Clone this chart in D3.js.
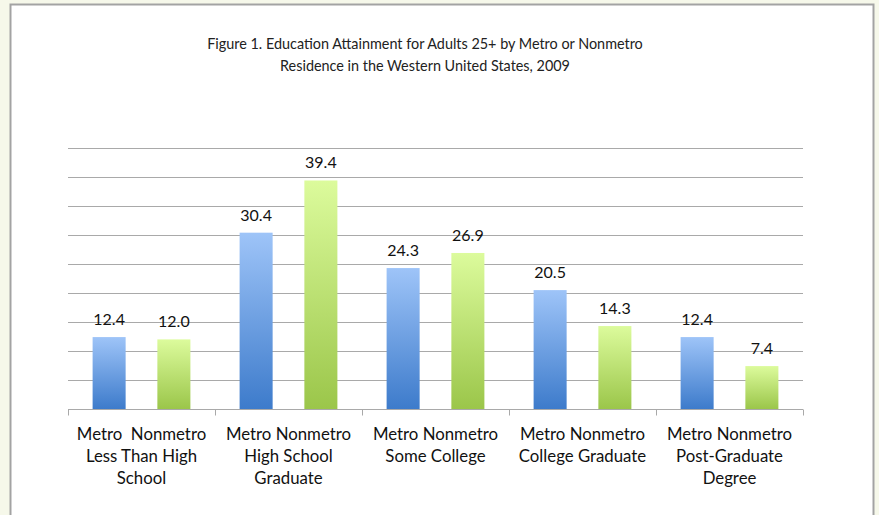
<!DOCTYPE html>
<html>
<head>
<meta charset="utf-8">
<script src="https://cdn.jsdelivr.net/npm/d3@7"></script>
<style>
  html, body { margin: 0; padding: 0; background: #f6f8ea; }
  svg { display: block; font-family: Lato, "Open Sans", sans-serif; }
</style>
</head>
<body>
<div id="chart"></div>
<script>
const titleLines = [
  'Figure 1. Education Attainment for Adults 25+ by Metro or Nonmetro',
  'Residence in the Western United States, 2009'
];
const series = ['Metro', 'Nonmetro'];
const categories = ['Less Than High School', 'High School Graduate', 'Some College', 'College Graduate', 'Post-Graduate Degree'];
// axis label lines as they wrap in the picture
const categoryLabels = [
  ['Metro  Nonmetro', 'Less Than High', 'School'],
  ['Metro Nonmetro', 'High School', 'Graduate'],
  ['Metro Nonmetro', 'Some College'],
  ['Metro Nonmetro', 'College Graduate'],
  ['Metro Nonmetro', 'Post-Graduate', 'Degree']
];
const metroValues = [12.4, 30.4, 24.3, 20.5, 12.4];
const nonmetroValues = [12.0, 39.4, 26.9, 14.3, 7.4];
const yTicks = [0, 5, 10, 15, 20, 25, 30, 35, 40, 45];

const width = 879, height = 515;
const plot = { left: 68, right: 803, top: 148, bottom: 409 };

const svg = d3.select('#chart').append('svg')
  .attr('width', width)
  .attr('height', height);

// gradients for the bars
const defs = svg.append('defs');
const grads = [
  { id: 'gMetro', top: '#9ec4f8', bottom: '#3d7bcb' },
  { id: 'gNonmetro', top: '#dcfb9c', bottom: '#9bc64a' }
];
grads.forEach(g => {
  const lg = defs.append('linearGradient').attr('id', g.id)
    .attr('x1', 0).attr('y1', 0).attr('x2', 0).attr('y2', 1);
  lg.append('stop').attr('offset', '0%').attr('stop-color', g.top);
  lg.append('stop').attr('offset', '100%').attr('stop-color', g.bottom);
});

// white panel with grey frame
svg.append('rect')
  .attr('x', 10.5).attr('y', 4.5)
  .attr('width', 863).attr('height', 520)
  .attr('fill', '#ffffff')
  .attr('stroke', '#a3a3a3')
  .attr('stroke-width', 2);

// title
svg.append('g').selectAll('text')
  .data(titleLines)
  .join('text')
  .attr('x', 425)
  .attr('y', (d, i) => 49 + i * 22)
  .attr('text-anchor', 'middle')
  .attr('font-size', 14.4)
  .attr('fill', '#222')
  .text(d => d);

const x = d3.scaleBand()
  .domain(categories)
  .range([plot.left, plot.right]);

const xInner = d3.scaleBand()
  .domain(series)
  .range([0, x.bandwidth()])
  .paddingInner(0.49)
  .paddingOuter(0.38);

const y = d3.scaleLinear()
  .domain([0, 45])
  .range([plot.bottom, plot.top]);

// gridlines
svg.append('g')
  .selectAll('line')
  .data(yTicks.slice(1))
  .join('line')
  .attr('x1', plot.left).attr('x2', plot.right)
  .attr('y1', d => Math.round(y(d)) + 0.5)
  .attr('y2', d => Math.round(y(d)) + 0.5)
  .attr('stroke', '#a9a9a9')
  .attr('stroke-width', 1);

// bars
const rows = categories.map((c, i) => ({
  category: c,
  values: [
    { key: 'Metro', value: metroValues[i] },
    { key: 'Nonmetro', value: nonmetroValues[i] }
  ]
}));

const groups = svg.append('g').selectAll('g')
  .data(rows)
  .join('g')
  .attr('transform', d => `translate(${x(d.category)},0)`);

groups.selectAll('rect')
  .data(d => d.values)
  .join('rect')
  .attr('x', d => xInner(d.key))
  .attr('y', d => y(d.value))
  .attr('width', xInner.bandwidth())
  .attr('height', d => y(0) - y(d.value))
  .attr('fill', d => d.key === 'Metro' ? 'url(#gMetro)' : 'url(#gNonmetro)');

groups.selectAll('text')
  .data(d => d.values)
  .join('text')
  .attr('x', d => xInner(d.key) + xInner.bandwidth() / 2)
  .attr('y', d => y(d.value) - 12)
  .attr('text-anchor', 'middle')
  .attr('font-size', 16)
  .attr('fill', '#111')
  .text(d => d.value.toFixed(1));

// x axis line with tick marks at group boundaries
const axisG = svg.append('g')
  .attr('transform', `translate(0,${Math.round(plot.bottom) + 0.5})`);
axisG.append('line')
  .attr('x1', plot.left).attr('x2', plot.right)
  .attr('stroke', '#a9a9a9');
axisG.selectAll('line.tick')
  .data(categories.map(c => x(c)).concat([plot.right]))
  .join('line')
  .attr('class', 'tick')
  .attr('x1', d => Math.round(d) + 0.5)
  .attr('x2', d => Math.round(d) + 0.5)
  .attr('y1', 0).attr('y2', 6)
  .attr('stroke', '#a9a9a9');

// category labels
const labelG = svg.append('g').selectAll('text')
  .data(categories)
  .join('text')
  .attr('x', d => x(d) + x.bandwidth() / 2)
  .attr('y', 440)
  .attr('text-anchor', 'middle')
  .attr('font-size', 16.8)
  .attr('fill', '#111')
  .style('white-space', 'pre');

labelG.selectAll('tspan')
  .data((d, i) => categoryLabels[i])
  .join('tspan')
  .attr('x', function() { return this.parentNode.getAttribute('x'); })
  .attr('dy', (d, i) => i === 0 ? 0 : 22)
  .text(d => d);
</script>
</body>
</html>
